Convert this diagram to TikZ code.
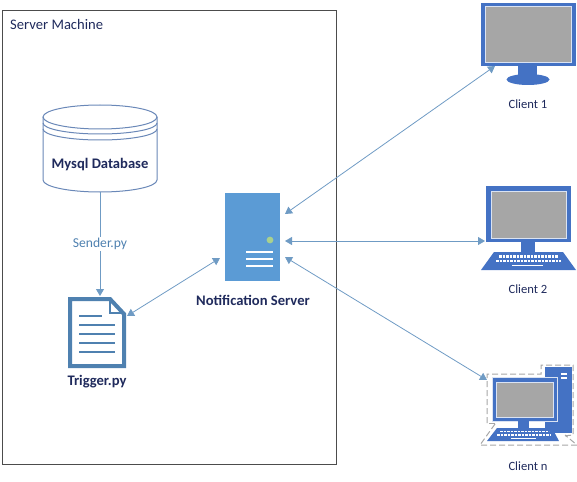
\documentclass[tikz,border=0pt]{standalone}
\usepackage{fontspec}
\setmainfont{Carlito}
\usetikzlibrary{arrows.meta,calc,shapes.geometric}
\definecolor{linkblue}{HTML}{6F9BC4}
\definecolor{pcblue}{HTML}{4472C4}
\definecolor{docblue}{HTML}{4F81B0}
\definecolor{srvblue}{HTML}{5B9BD5}
\definecolor{screengray}{HTML}{A6A6A6}
\definecolor{navy}{HTML}{1F2A5C}
\definecolor{dbline}{HTML}{6A88B8}
\definecolor{ledgreen}{HTML}{A9D18E}
\definecolor{edgewhite}{HTML}{DAE3F3}
\tikzset{
  x=1pt,y=-1pt,
  link/.style={draw=linkblue,line width=0.8pt,{Triangle[length=7pt,width=8pt]}-{Triangle[length=7pt,width=8pt]}},
  onelink/.style={draw=linkblue,line width=1pt,-{Triangle[length=7pt,width=8pt]}},
  boldtext/.style={font=\fontsize{14.6}{16}\selectfont\bfseries,text=navy,inner sep=0pt},
  captext/.style={font=\fontsize{12.6}{14}\selectfont,text=navy,inner sep=0pt},
  pc/.style={fill=pcblue},
  keyrow/.style={draw=white,line width=2.4pt,dash pattern=on 2.6pt off 0.9pt},
  outline/.style={draw=black!35,line width=1pt,dash pattern=on 6pt off 3pt},
  dbl/.style={draw=dbline,line width=1pt}
}
\begin{document}
\begin{tikzpicture}
\useasboundingbox (0,0) rectangle (577,481);
% server machine frame
\node[draw=black!70,line width=0.8pt,minimum width=334pt,minimum height=454.5pt,inner sep=0pt,outer sep=0pt,anchor=north west] (machine) at (2,10) {};
\node[captext,font=\fontsize{14.6}{16}\selectfont,anchor=west] (machinelabel) at (10,24.5) {Server Machine};
% database
\draw[dbl,fill=white] (43,117) -- (43,180) arc[start angle=180,end angle=360,x radius=57,y radius=-12] -- (157,117);
\draw[dbl] (43,123) arc[start angle=180,end angle=360,x radius=57,y radius=-11];
\draw[dbl] (43,129) arc[start angle=180,end angle=360,x radius=57,y radius=-11];
\node[draw=dbline,line width=1pt,ellipse,minimum width=114pt,minimum height=24pt,inner sep=0pt,outer sep=0pt] (dbtop) at (100,117) {};
\coordinate (dbbottom) at (100,192);
\node[boldtext] (dblabel) at (100,165) {Mysql Database};
% document
\coordinate (doctop) at (100,296);
\coordinate (docside) at (127,316);
\draw[draw=docblue,line width=4pt,fill=white,line join=miter] (70,299) -- (110,299) -- (124,314) -- (124,366) -- (70,366) -- cycle;
\draw[draw=docblue,line width=1.5pt] (110,299) -- (110,313) -- (124,313);
\foreach \yy/\xe in {316/102,325/115,334/115,343/115,352/115}
  \draw[draw=docblue,line width=1.6pt] (79,\yy) -- (\xe,\yy);
\node[boldtext] (doclabel) at (97,382) {Trigger.py};
% notification server
\node[fill=srvblue,inner sep=0pt,outer sep=0pt,minimum width=55pt,minimum height=88pt,anchor=north west] (server) at (225,193) {};
\fill[fill=ledgreen] (270,240) circle (3.4);
\foreach \yy in {252,259,266}
  \draw[white,line width=1.4pt] (246,\yy) -- (273,\yy);
\node[boldtext] (serverlabel) at (253,300) {Notification Server};
% client 1
\node[pc,inner sep=0pt,outer sep=0pt,minimum width=95pt,minimum height=63pt,anchor=north west] (cone) at (480.5,3) {};
\fill[screengray] (485,6) rectangle (571,62);
\draw[draw=edgewhite,line width=0.7pt] (485,6) rectangle (571,62);
\fill[pc] (518,66) rectangle (537,76);
\fill[pc] (528,79.5) ellipse[x radius=21.5,y radius=5.5];
\node[captext] (conelabel) at (528,104) {Client 1};
% client 2
\node[pc,inner sep=0pt,outer sep=0pt,minimum width=85pt,minimum height=56pt,anchor=north west] (ctwo) at (486,186) {};
\fill[screengray] (491,191) rectangle (566,238);
\draw[draw=edgewhite,line width=0.7pt] (491,191) rectangle (566,238);
\fill[pc] (521,242) rectangle (535,252);
\fill[pc] (494,252) -- (563,252) -- (576,270) -- (481,270) -- cycle;
\draw[keyrow] (499,256.5) -- (558,256.5);
\draw[keyrow] (496,261) -- (561,261);
\draw[white,line width=1.8pt] (512,265.5) -- (543,265.5);
\node[captext] (ctwolabel) at (528,289) {Client 2};
% client n
\draw[outline] (487,423) -- (487,374) -- (541,374) -- (541,365) -- (573,365) -- (573,435) -- (563,436);
\draw[outline] (495,423) -- (487,423);
\draw[outline] (495,424) -- (480,445) -- (577,445) -- (565,435);
\fill[pc] (545,367) rectangle (572,433);
\fill[white] (561,372.5) rectangle (567,374.5);
\fill[white] (561,377) rectangle (567,379);
\node[pc,draw=edgewhite,line width=0.7pt,inner sep=0pt,outer sep=0pt,minimum width=65pt,minimum height=44pt,anchor=north west] (cn) at (492,377) {};
\fill[screengray] (496,382) rectangle (553,417);
\draw[draw=edgewhite,line width=0.7pt] (496,382) rectangle (553,417);
\fill[pc] (518,421) rectangle (529,428);
\fill[pc] (497,428) -- (552,428) -- (559,441) -- (487,441) -- cycle;
\draw[keyrow,line width=1.8pt] (500,431.5) -- (549,431.5);
\draw[keyrow,line width=1.8pt] (497,435) -- (551,435);
\draw[white,line width=1.2pt] (511,438.5) -- (536,438.5);
\node[captext] (cnlabel) at (528,466) {Client n};
% connectors
\draw[onelink] (dbbottom) -- node[fill=white,inner sep=1.5pt,pos=0.5,font=\fontsize{13.6}{15}\selectfont,text=docblue] (senderlabel) {Sender.py} (doctop);
\draw[link] (docside) -- ([shift={(-5,21)}]server.west);
\draw[link] ([shift={(5,-23)}]server.east) -- ([shift={(14.5,0)}]cone.south west);
\draw[link] ([shift={(5,4)}]server.east) -- ([shift={(-1,55)}]ctwo.north west);
\draw[link] ([shift={(5,20)}]server.east) -- ([shift={(-5,3)}]cn.north west);
\end{tikzpicture}
\end{document}
